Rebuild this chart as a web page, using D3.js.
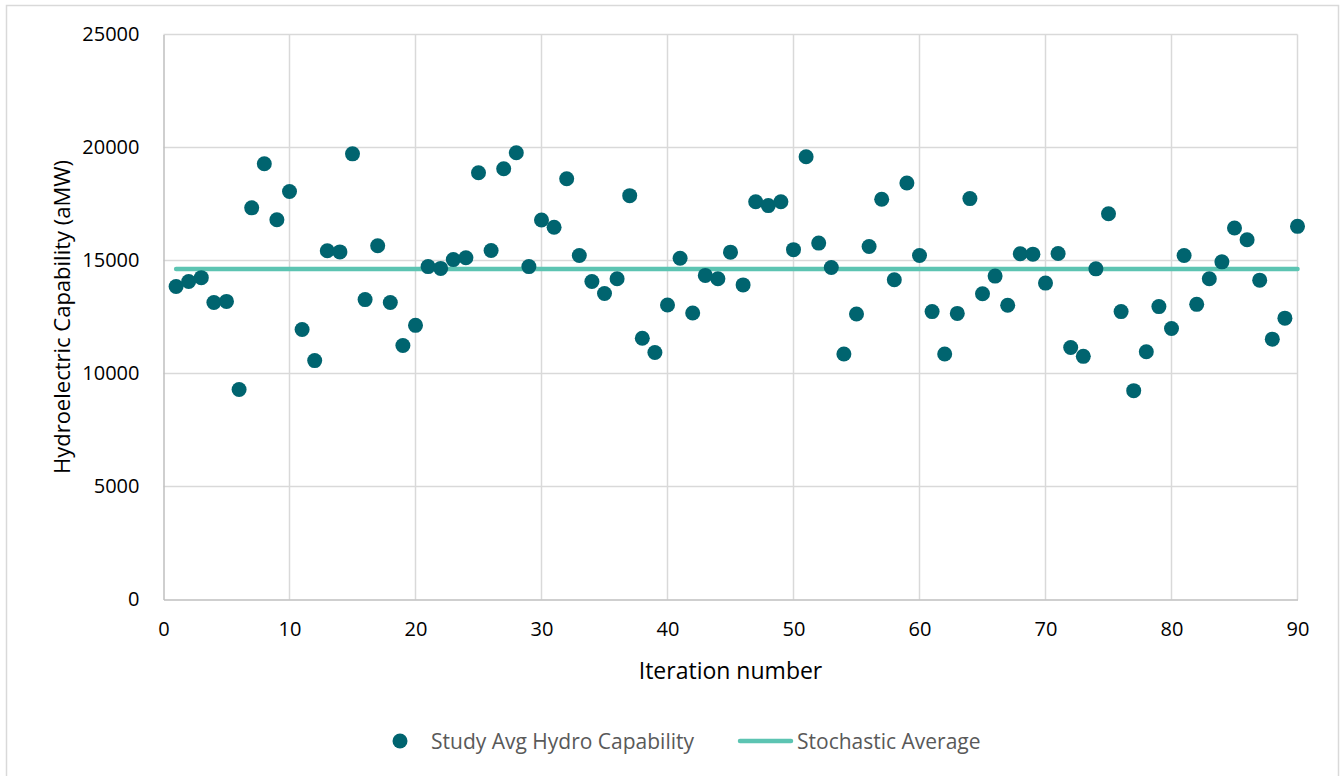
<!DOCTYPE html>
<html>
<head>
<meta charset="utf-8">
<script src="https://cdn.jsdelivr.net/npm/d3@7"></script>
<style>
  html, body { margin: 0; padding: 0; background: #fff; }
  svg { display: block; font-family: "Open Sans", sans-serif; }
</style>
</head>
<body>
<svg id="chart" width="1340" height="776"></svg>
<script>
// ---- Data ----
const hydroCapability = [
  13850, 14070, 14240, 13140, 13190, 9290, 17330, 19280, 16800, 18050,
  11950, 10570, 15430, 15380, 19720, 13270, 15650, 13140, 11240, 12130,
  14730, 14650, 15040, 15120, 18880, 15440, 19060, 19770, 14730, 16790,
  16470, 18620, 15220, 14070, 13540, 14190, 17870, 11560, 10930, 13030,
  15100, 12680, 14340, 14190, 15370, 13920, 17600, 17430, 17600, 15480,
  19590, 15770, 14690, 10860, 12630, 15620, 17710, 14150, 18430, 15220,
  12740, 10860, 12660, 17740, 13530, 14310, 13020, 15300, 15280, 14000,
  15310, 11150, 10760, 14630, 17070, 12740, 9240, 10960, 12960, 11990,
  15220, 13060, 14190, 14940, 16440, 15920, 14130, 11520, 12450, 16510
];
const stochasticAverage = 14620;
const xTicks = [0, 10, 20, 30, 40, 50, 60, 70, 80, 90];
const yTicks = [0, 5000, 10000, 15000, 20000, 25000];
const seriesNames = ["Study Avg Hydro Capability", "Stochastic Average"];
const xTitle = "Iteration number";
const yTitle = "Hydroelectric Capability (aMW)";

// ---- Chart ----
(function () {
const svg = d3.select("#chart");
const pLeft = 163.5, pRight = 1297.5, pTop = 34.5, pBottom = 599.5;
const dotColor = "#00646f";
const lineColor = "#5cc4b2";
const gridColor = "#d9d9d9";
const axisColor = "#bfbfbf";

const x = d3.scaleLinear().domain([0, 90]).range([pLeft, pRight]);
const y = d3.scaleLinear().domain([0, 25000]).range([pBottom, pTop]);

// outer border
svg.append("rect")
  .attr("x", 6.5).attr("y", 5.5)
  .attr("width", 1332).attr("height", 790)
  .attr("fill", "none").attr("stroke", gridColor).attr("stroke-width", 1.5);

// gridlines
svg.append("g").selectAll("line").data(yTicks.filter(d => d > 0)).join("line")
  .attr("x1", pLeft).attr("x2", pRight)
  .attr("y1", d => y(d)).attr("y2", d => y(d))
  .attr("stroke", gridColor).attr("stroke-width", 1.5);
svg.append("g").selectAll("line").data(xTicks.filter(d => d > 0)).join("line")
  .attr("y1", pTop).attr("y2", pBottom)
  .attr("x1", d => x(d)).attr("x2", d => x(d))
  .attr("stroke", gridColor).attr("stroke-width", 1.5);

// axes
const xAxis = svg.append("g").attr("transform", `translate(0,${pBottom})`)
  .call(d3.axisBottom(x).tickValues(xTicks).tickSize(0).tickPadding(22).tickFormat(d3.format("d")));
const yAxis = svg.append("g").attr("transform", `translate(${pLeft},0)`)
  .call(d3.axisLeft(y).tickValues(yTicks).tickSize(0).tickPadding(24).tickFormat(d3.format("d")));
[xAxis, yAxis].forEach(g => {
  g.select(".domain").attr("stroke", axisColor).attr("stroke-width", 1.5);
  g.selectAll("text").attr("font-size", 20).attr("fill", "#000")
    .attr("font-family", "'Open Sans', sans-serif");
});

// axis titles
svg.append("text")
  .attr("x", (pLeft + pRight) / 2).attr("y", 670)
  .attr("text-anchor", "middle").attr("dominant-baseline", "central")
  .attr("font-size", 23).attr("fill", "#000").text(xTitle);
svg.append("text")
  .attr("transform", `translate(61,317) rotate(-90)`)
  .attr("text-anchor", "middle").attr("dominant-baseline", "central")
  .attr("font-size", 22).attr("fill", "#000").text(yTitle);

// average line
svg.append("line")
  .attr("x1", x(1)).attr("x2", x(hydroCapability.length))
  .attr("y1", y(stochasticAverage)).attr("y2", y(stochasticAverage))
  .attr("stroke", lineColor).attr("stroke-width", 4.5).attr("stroke-linecap", "round");

// points
svg.append("g").selectAll("circle").data(hydroCapability).join("circle")
  .attr("cx", (d, i) => x(i + 1))
  .attr("cy", d => y(d))
  .attr("r", 7.5)
  .attr("fill", dotColor);

// legend
const ly = 741;
svg.append("circle").attr("cx", 400).attr("cy", ly).attr("r", 7.5).attr("fill", dotColor);
svg.append("text").attr("x", 431).attr("y", ly).attr("dominant-baseline", "central")
  .attr("font-size", 21).attr("fill", "#595959").text(seriesNames[0]);
svg.append("line").attr("x1", 740).attr("x2", 791).attr("y1", ly).attr("y2", ly)
  .attr("stroke", lineColor).attr("stroke-width", 4.5).attr("stroke-linecap", "round");
svg.append("text").attr("x", 797).attr("y", ly).attr("dominant-baseline", "central")
  .attr("font-size", 21).attr("fill", "#595959").text(seriesNames[1]);
})();
</script>
</body>
</html>
